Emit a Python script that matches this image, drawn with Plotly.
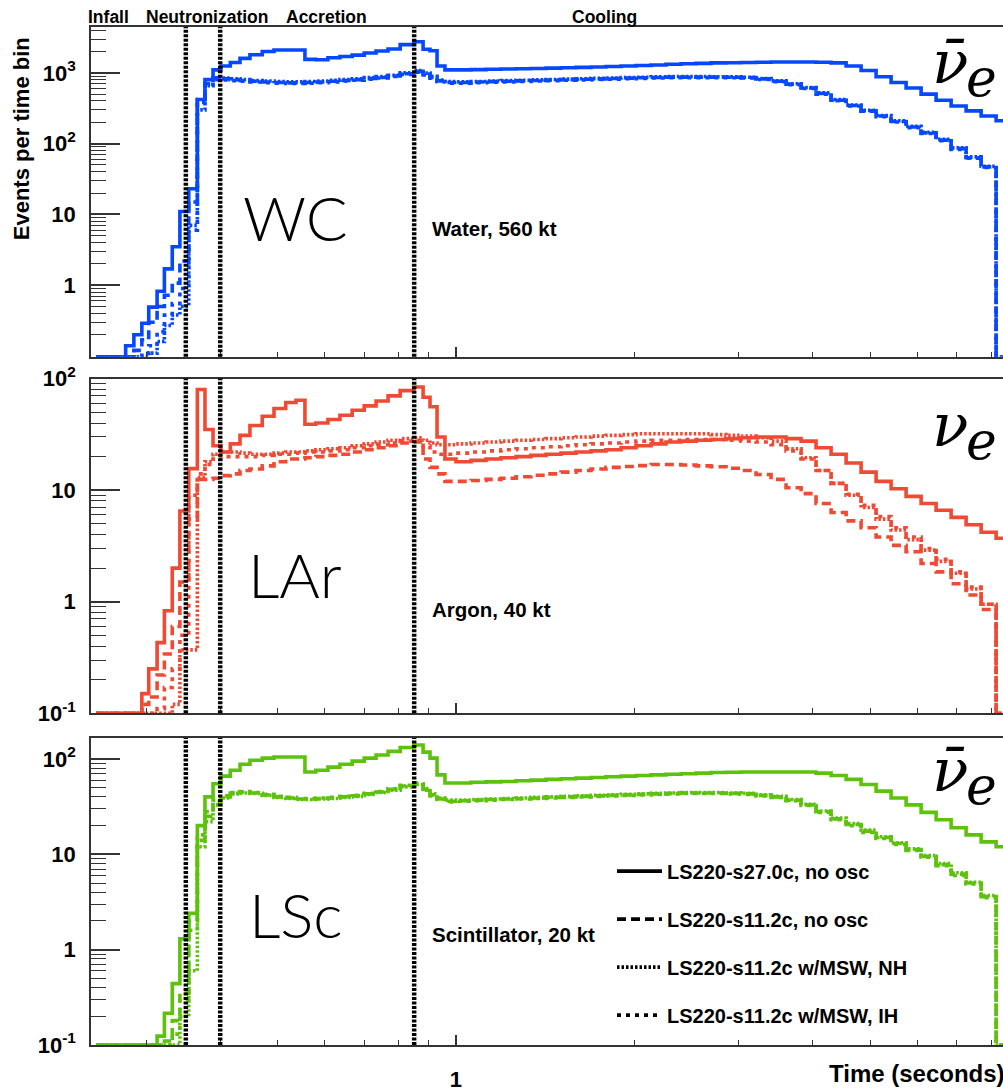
import plotly.graph_objects as go

# Time-bin edges (seconds); 73 edges -> 72 bins
TIME_EDGES = [0.247, 0.277, 0.286, 0.295, 0.303, 0.313, 0.322, 0.332, 0.342, 0.354,
              0.366, 0.377, 0.389, 0.401, 0.416, 0.432, 0.449, 0.471, 0.493, 0.516,
              0.537, 0.556, 0.580, 0.608, 0.637, 0.668, 0.700, 0.733, 0.768, 0.805,
              0.849, 0.880, 0.904, 0.929, 0.958, 1.000, 1.060, 1.124, 1.191, 1.263,
              1.338, 1.419, 1.504, 1.594, 1.690, 1.791, 1.899, 2.013, 2.134, 2.262,
              2.398, 2.542, 2.694, 2.856, 3.028, 3.209, 3.402, 3.606, 3.823, 4.052,
              4.296, 4.554, 4.827, 5.117, 5.424, 5.750, 6.095, 6.461, 6.849, 7.260,
              7.696, 8.158, 8.645]

# Water Cherenkov, 560 kt (anti-nu_e)
WC_S27 = [0, 0.14, 0.2, 0.29, 0.49, 0.82, 1.7, 3.5, 11, 23, 420, 800,
          1100, 1250, 1400, 1600, 1800, 2000, 2100, 2100, 2100, 1550, 1530, 1630,
          1700, 1780, 1900, 2030, 2170, 2500, 2750, 2150, 2050, 1250, 1100, 1100,
          1110, 1120, 1130, 1140, 1150, 1165, 1180, 1195, 1210, 1230, 1250, 1270,
          1290, 1320, 1340, 1360, 1380, 1390, 1400, 1410, 1420, 1420, 1420, 1410,
          1380, 1250, 1080, 880, 730, 610, 500, 410, 340, 290, 245, 210]
WC_S11 = [0, 0, 0.12, 0.17, 0.3, 0.5, 0.72, 1.07, 2.2, 15, 420, 700,
          850, 820, 800, 780, 760, 740, 730, 720, 720, 730, 740, 760,
          780, 800, 830, 860, 900, 970, 1050, 960, 860, 770, 730, 730,
          740, 750, 760, 770, 780, 790, 800, 810, 820, 830, 840, 850,
          860, 870, 870, 870, 870, 865, 860, 820, 760, 690, 610, 510,
          410, 345, 290, 245, 205, 172, 142, 112, 85, 63, 47, 0]
WC_NH = [0, 0, 0, 0, 0.11, 0.16, 0.27, 0.38, 0.5, 7, 300, 660,
         830, 840, 820, 800, 780, 765, 755, 745, 745, 755, 765, 785,
         805, 825, 855, 885, 925, 1000, 1080, 990, 890, 790, 750, 745,
         755, 765, 775, 785, 795, 805, 815, 825, 835, 845, 855, 865,
         875, 885, 885, 885, 880, 875, 865, 830, 770, 700, 620, 520,
         420, 350, 295, 250, 210, 176, 145, 115, 87, 65, 48, 0]
WC_IH = [0, 0, 0, 0.11, 0.14, 0.22, 0.38, 0.55, 0.9, 6, 380, 680,
         800, 790, 775, 760, 740, 725, 715, 705, 705, 715, 725, 745,
         765, 785, 815, 845, 885, 950, 1020, 930, 840, 750, 715, 715,
         725, 735, 745, 755, 765, 775, 785, 795, 805, 815, 825, 835,
         845, 855, 855, 855, 855, 850, 845, 805, 750, 680, 600, 500,
         405, 340, 286, 240, 202, 168, 139, 110, 83, 62, 46, 0]

# Liquid argon, 40 kt (nu_e)
LAR_S27 = [0, 0, 0, 0.15, 0.25, 0.43, 0.83, 2.0, 6.5, 15.6, 80, 35,
           25, 22, 26, 31, 38, 46, 54, 61, 64, 39, 40, 43,
           47, 52, 57, 63, 70, 78, 84, 68, 56, 30, 19, 18,
           18.5, 19, 19.5, 20, 20.5, 21, 21.5, 22, 22.5, 23, 24, 25,
           26, 27, 27.5, 28, 28.5, 29, 29.5, 30, 30, 29, 27.5, 24,
           21, 17.5, 14.5, 12, 10.3, 8.8, 7.6, 6.6, 5.7, 4.9, 4.2, 3.7]
LAR_S11 = [0, 0, 0, 0.12, 0.14, 0.22, 0.34, 0.6, 1.5, 5.5, 12.5, 12.5,
           12.8, 13.5, 14, 15, 15.5, 16.5, 18, 19, 19, 19.5, 20, 20.5,
           21, 22, 23, 24, 25, 26.5, 27, 19, 16, 14, 12, 12,
           12.2, 12.5, 12.8, 13.2, 13.6, 14, 14.5, 15, 15.5, 16, 16.3, 16.6,
           17, 17, 16.8, 16.5, 16.2, 15.7, 15, 13.8, 12.5, 10.5, 9.3, 7.6,
           6.3, 5.3, 4.6, 3.8, 3.2, 2.8, 2.2, 1.85, 1.45, 1.15, 0.85, 0]
LAR_NH = [0, 0, 0, 0, 0, 0, 0, 0.12, 0.37, 0.37, 13, 18,
          21, 22, 22, 21.5, 21, 21, 21.5, 22, 22, 22.5, 23, 23.5,
          24, 25, 26, 27, 28, 29, 29.5, 28, 26.5, 25.5, 25.5, 26,
          26.5, 27, 27.5, 28, 28.5, 29, 29.5, 30, 30.5, 31, 31.5, 32,
          32, 32, 32, 32, 31.5, 31, 30.5, 29.5, 27.5, 23.5, 19.5, 15,
          11.5, 9, 7, 5.5, 4.4, 3.6, 2.9, 2.3, 1.8, 1.3, 0.95, 0]
LAR_IH = [0, 0, 0, 0, 0, 0.11, 0.17, 0.25, 0.5, 9, 14, 17,
          19, 20, 20, 20, 20, 20.5, 21, 21, 21.5, 22, 22, 22.5,
          23, 24, 25, 25.5, 26.5, 27.5, 28, 25, 22, 21, 21, 21.5,
          22, 22.5, 23, 23.5, 24, 24.5, 25, 25.5, 26, 26.5, 27, 27.5,
          28, 28, 28.5, 28.5, 28.5, 28, 27.5, 27, 25.5, 22.5, 19, 15,
          11.5, 9.2, 7.3, 5.8, 4.6, 3.8, 3.0, 2.4, 1.85, 1.35, 0.95, 0]

# Liquid scintillator, 20 kt (anti-nu_e)
LSC_S27 = [0, 0, 0, 0, 0, 0.124, 0.215, 0.44, 1.3, 2.4, 20, 40,
           55, 66, 76, 88, 97, 102, 105, 105, 105, 73, 76, 82,
           88, 95, 102, 110, 120, 132, 140, 118, 102, 68, 56, 56,
           57, 57.5, 58, 59, 60, 61, 62, 63, 64, 65, 66, 67,
           68, 69, 70, 71, 72, 72.5, 73, 73, 73, 73, 73, 71,
           67, 61, 54, 46, 39, 33, 27.5, 23, 19, 16, 13.5, 12]
LSC_S11 = [0, 0, 0, 0, 0, 0, 0.11, 0.18, 0.35, 2.0, 14, 25,
           35, 40, 44, 45, 44, 42, 40, 39, 38, 38, 38.5, 39,
           40, 41, 43, 45, 48, 52, 55, 48, 42, 38, 36, 36.5,
           37, 37.5, 38, 38.5, 39, 39.5, 40, 40.5, 41, 41.5, 42, 42.5,
           43, 43.5, 44, 44, 44, 43.5, 43, 41.5, 40, 37, 33, 28,
           23.5, 20.5, 17.5, 15, 13, 11.2, 9.5, 7.8, 6.2, 5, 3.6, 0]
LSC_NH = [0, 0, 0, 0, 0, 0, 0, 0.1, 0.2, 0.6, 12, 22,
          33, 39, 43, 44, 43.5, 41.5, 39.5, 38.5, 37.5, 37.5, 38, 38.5,
          39.5, 40.5, 42.5, 44.5, 47, 51, 54, 49, 43, 39, 37, 37,
          37.5, 38, 38.5, 39, 39.5, 40, 40.5, 41, 41.5, 42, 42.5, 43,
          43.5, 44, 44.5, 44.5, 44.5, 44, 43.5, 42, 40.5, 37.5, 33.5, 28.5,
          24, 21, 18, 15.3, 13.2, 11.4, 9.7, 8, 6.4, 5.1, 3.7, 0]
LSC_IH = [0, 0, 0, 0, 0, 0, 0, 0.13, 0.3, 1.6, 16, 28,
          37, 41, 44.5, 45.5, 44.5, 42.5, 40.5, 39.5, 38.5, 38.5, 39, 39.5,
          40.5, 41.5, 43.5, 45.5, 48.5, 53, 56, 47, 41, 37.5, 35.5, 36,
          36.5, 37, 37.5, 38, 38.5, 39, 39.5, 40, 40.5, 41, 41.5, 42,
          42.5, 43, 43.5, 43.5, 43.5, 43, 42.5, 41, 39.5, 36.5, 32.5, 27.5,
          23, 20, 17, 14.7, 12.7, 11, 9.3, 7.6, 6.0, 4.9, 3.5, 0]

MODEL_NAMES = ["LS220-s27.0c, no osc", "LS220-s11.2c, no osc",
               "LS220-s11.2c w/MSW, NH", "LS220-s11.2c w/MSW, IH"]
PHASES = ["Infall", "Neutronization", "Accretion", "Cooling"]
PHASE_BOUNDS = [0.35, 0.40, 0.85]  # seconds

BLUE, RED, GREEN = "#0648ff", "#ef4a33", "#5dc20c"
DASHES = ["solid", "9px,5px", "2.5px,2px", "4px,5px"]
LW = 3.6
FONT = "Liberation Sans"

# log10 y-ranges per panel
YRANGES = [[-1.01, 3.647], [-1.0, 2.0], [-1.0, 2.219]]
YDOMAINS = [[0.6761, 1.0], [0.3259, 0.6546], [0.0, 0.3015]]
XRANGE = [-0.616, 0.9232]

panels = [
    (BLUE, [WC_S27, WC_S11, WC_NH, WC_IH]),
    (RED, [LAR_S27, LAR_S11, LAR_NH, LAR_IH]),
    (GREEN, [LSC_S27, LSC_S11, LSC_NH, LSC_IH]),
]


def step_y(values, floor):
    # empty bins sit on the bottom of the log frame
    ys = [v if v > 0 else floor for v in values]
    return ys + [ys[-1]]


fig = go.Figure()
for i, (color, series) in enumerate(panels):
    xa = "x" if i == 0 else f"x{i + 1}"
    ya = "y" if i == 0 else f"y{i + 1}"
    floor = 10 ** YRANGES[i][0] * 1.001
    for s, dash in zip(series, DASHES):
        fig.add_trace(go.Scatter(
            x=TIME_EDGES, y=step_y(s, floor), mode="lines",
            line=dict(color=color, width=LW, dash=dash, shape="hv"),
            xaxis=xa, yaxis=ya, showlegend=False, hoverinfo="skip"))
    for tb in PHASE_BOUNDS:
        fig.add_shape(type="line", xref=xa, yref=f"{ya} domain",
                      x0=tb, x1=tb, y0=0, y1=1,
                      line=dict(color="black", width=4.5, dash="3px,1.5px"))

# legend entries (black keys)
for g, (name, dash) in enumerate(zip(MODEL_NAMES, DASHES)):
    fig.add_trace(go.Scatter(
        x=[None], y=[None], mode="lines", name=name, legendgroup=f"g{g}",
        line=dict(color="black", width=LW, dash=dash),
        xaxis="x3", yaxis="y3", showlegend=True))

minor_x = [0.3, 0.4, 0.5, 0.6, 0.7, 0.8, 0.9, 2, 3, 4, 5, 6, 7, 8]
minor_y = [m * 10 ** e for e in range(-1, 4) for m in range(2, 10)]
ytickvals = [[1, 10, 100, 1000], [0.1, 1, 10, 100], [0.1, 1, 10, 100]]
yticktext = [["1", "10", "10<sup>2</sup>", "10<sup>3</sup>"],
             ["10<sup>-1</sup>", "1", "10", "10<sup>2</sup>"],
             ["10<sup>-1</sup>", "1", "10", "10<sup>2</sup>"]]

tickfont = dict(family=FONT, size=22, color="black", weight="bold")
layout = dict(
    width=1003, height=1092,
    margin=dict(l=91, r=0, t=27, b=40),
    plot_bgcolor="white", paper_bgcolor="white",
    showlegend=True,
    legend=dict(x=0.5713, y=0.19, xanchor="left", yanchor="top",
                font=dict(family=FONT, size=20, color="black", weight="bold"),
                bgcolor="rgba(0,0,0,0)", itemwidth=45, tracegroupgap=19,
                traceorder="grouped"),
)
for i in range(3):
    sx = "" if i == 0 else str(i + 1)
    layout[f"xaxis{sx}"] = dict(
        type="log", range=XRANGE, domain=[0, 1], anchor=f"y{sx}",
        showline=True, linecolor="#333", linewidth=1.5, mirror=True,
        showgrid=False, zeroline=False,
        ticks="inside", tickvals=[1], ticktext=["1"], ticklen=10,
        tickcolor="#333", tickwidth=1.5,
        minor=dict(tickvals=minor_x, ticks="inside", ticklen=5,
                   tickcolor="#333", tickwidth=1.2, showgrid=False),
        showticklabels=(i == 2), tickfont=tickfont, ticklabelstandoff=14)
    layout[f"yaxis{sx}"] = dict(
        type="log", range=YRANGES[i], domain=YDOMAINS[i], anchor=f"x{sx}",
        showline=True, linecolor="#333", linewidth=1.5, mirror=False,
        showgrid=False, zeroline=False,
        ticks="inside", tickvals=ytickvals[i], ticktext=yticktext[i],
        ticklen=29, tickcolor="#333", tickwidth=1.5,
        minor=dict(tickvals=minor_y, ticks="inside", ticklen=15,
                   tickcolor="#333", tickwidth=1.2, showgrid=False),
        tickfont=tickfont, ticklabelstandoff=9)
fig.update_layout(**layout)


def px2paper(px, py):
    return (px - 91) / 912, (1052 - py) / 1025


ann = []
bold = dict(family=FONT, color="black", weight="bold")
for name, cx in zip(PHASES, [108, 207, 326, 604]):
    x, y = px2paper(cx, 17)
    ann.append(dict(text=name, x=x, y=y, xanchor="center", yanchor="middle",
                    font=dict(size=17.5, **bold)))
for name, cy in zip(["WC", "LAr", "LSc"], [218, 578, 920]):
    x, y = px2paper(295, cy)
    ann.append(dict(text=name, x=x, y=y, xanchor="center", yanchor="middle",
                    font=dict(family="Lato", size=62, color="black",
                              weight=300)))
for name, cy in zip(["Water, 560 kt", "Argon, 40 kt", "Scintillator, 20 kt"],
                    [230, 614, 941]):
    x, y = px2paper(430, cy)
    ann.append(dict(text=name, x=x, y=y, xanchor="left", yanchor="middle",
                    font=dict(size=20.5, **bold)))
# flavour symbols
nu_font = dict(family="DejaVu Serif", size=60, color="black", style="italic")
e_font = dict(family="DejaVu Serif", size=52, color="black", style="italic")
for sym, cy in zip(["\u03bd\u0304", "\u03bd", "\u03bd\u0304"], [62, 428, 775]):
    x, y = px2paper(950, cy)
    ann.append(dict(text=sym, x=x, y=y, xanchor="center", yanchor="middle",
                    font=nu_font))
    x, y = px2paper(981, cy + 16)
    ann.append(dict(text="e", x=x, y=y, xanchor="center", yanchor="middle",
                    font=e_font))
x, y = px2paper(21, 140)
ann.append(dict(text="Events per time bin", x=x, y=y, textangle=-90,
                xanchor="center", yanchor="middle", font=dict(size=22, **bold)))
x, y = px2paper(827, 1081)
ann.append(dict(text="Time (seconds)", x=x, y=y, xanchor="left",
                yanchor="middle", font=dict(size=24, **bold)))
for a in ann:
    a.update(xref="paper", yref="paper", showarrow=False)
fig.update_layout(annotations=ann)

fig.write_html("out.html")
